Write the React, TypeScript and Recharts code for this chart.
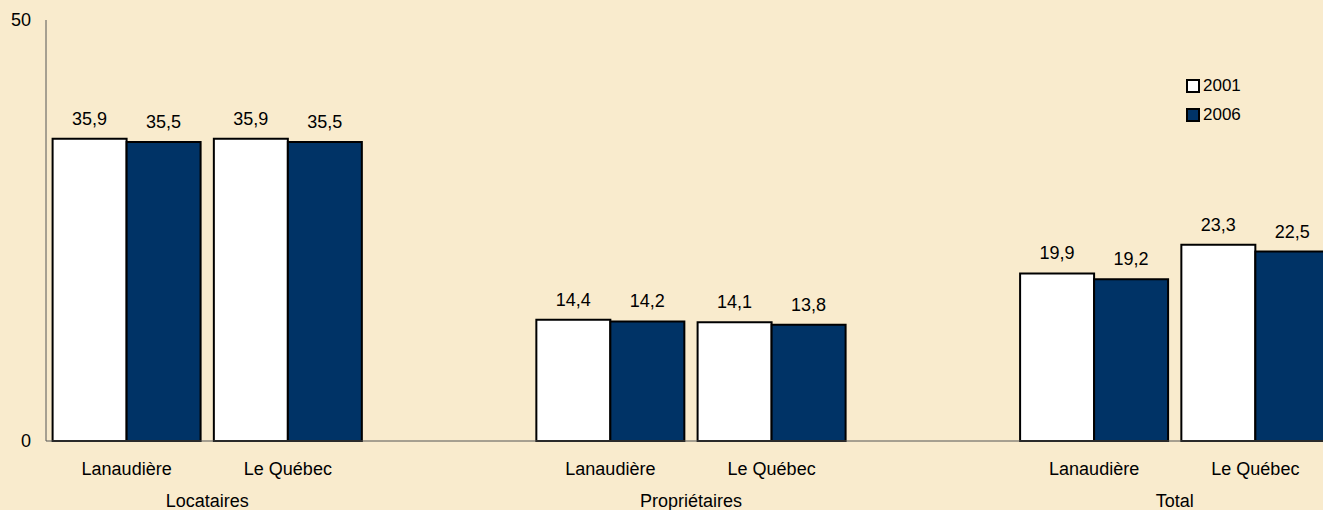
import { BarChart, Bar, XAxis, YAxis, LabelList, Legend } from "recharts";

const groups = ["Locataires", "Propriétaires", "Total"];
const regions = ["Lanaudière", "Le Québec"];
const years = ["2001", "2006"];
const values2001 = [35.9, 35.9, 14.4, 14.1, 19.9, 23.3];
const values2006 = [35.5, 35.5, 14.2, 13.8, 19.2, 22.5];
const yTicks = [0, 50];

const colors = ["#ffffff", "#003366"];
const font = "'Liberation Sans', Arial, sans-serif";

// one row per region, with an empty row between the groups
const data: any[] = [];
groups.forEach((g, gi) => {
  if (gi > 0) data.push({ key: "gap" + gi, region: "", group: "", y2001: null, y2006: null });
  regions.forEach((r, ri) => {
    const i = gi * regions.length + ri;
    data.push({
      key: g + r,
      region: r,
      group: ri === 0 ? g : "",
      y2001: values2001[i],
      y2006: values2006[i],
    });
  });
});

const chartWidth = 1336;
const yAxisWidth = 46;
const bandWidth = (chartWidth - yAxisWidth) / data.length;

const fmt = (v: any) => (v == null ? "" : Number(v).toFixed(1).replace(".", ","));

function CategoryTick(props: any) {
  const { x, y, payload } = props;
  const row = data[payload.index];
  if (!row || !row.region) return null;
  return (
    <g>
      <text x={x} y={y + 34} textAnchor="middle" fontSize={18} fontFamily={font} fill="#000">
        {row.region}
      </text>
      {row.group && (
        <text x={x + bandWidth / 2} y={y + 66} textAnchor="middle" fontSize={18} fontFamily={font} fill="#000">
          {row.group}
        </text>
      )}
    </g>
  );
}

function YearLegend() {
  return (
    <div style={{ fontFamily: font, fontSize: 17, color: "#000" }}>
      {years.map((yr, i) => (
        <div key={yr} style={{ display: "flex", alignItems: "center", height: 29 }}>
          <span
            style={{
              display: "inline-block",
              width: 10,
              height: 10,
              background: colors[i],
              border: "2px solid #000",
              marginRight: 3,
            }}
          />
          {yr}
        </div>
      ))}
    </div>
  );
}

export default function App() {
  return (
    <div
      style={{
        position: "absolute",
        left: 0,
        top: 0,
        width: 1323,
        height: 510,
        overflow: "hidden",
        background: "#f9ebcd",
      }}
    >
      <BarChart
        width={chartWidth}
        height={510}
        data={data}
        margin={{ top: 20, right: 0, bottom: 0, left: 0 }}
        barCategoryGap={6.6}
        barGap={0}
      >
        <XAxis
          dataKey="key"
          height={69}
          tickSize={0}
          tickMargin={0}
          tickLine={false}
          interval={0}
          stroke="#555"
          tick={<CategoryTick />}
        />
        <YAxis
          width={yAxisWidth}
          domain={[0, 50]}
          ticks={yTicks}
          tickLine={false}
          tickSize={0}
          tickMargin={15}
          stroke="#555"
          tick={{ fill: "#000", fontSize: 18, fontFamily: font }}
        />
        <Legend
          layout="horizontal"
          verticalAlign="middle"
          content={<YearLegend />}
          wrapperStyle={{ left: 1186, top: 71, width: 80 }}
        />
        {years.map((yr, i) => (
          <Bar
            key={yr}
            dataKey={"y" + yr}
            name={yr}
            fill={colors[i]}
            stroke="#000"
            strokeWidth={2}
            isAnimationActive={false}
          >
            <LabelList
              dataKey={"y" + yr}
              position="top"
              offset={14}
              formatter={fmt}
              fill="#000"
              fontSize={18}
              fontFamily={font}
            />
          </Bar>
        ))}
      </BarChart>
    </div>
  );
}
